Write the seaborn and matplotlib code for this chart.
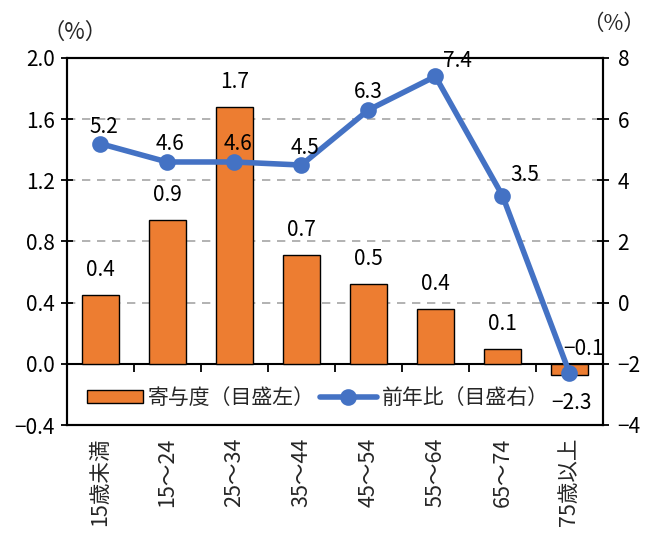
import matplotlib
matplotlib.use("Agg")
import matplotlib.pyplot as plt
import seaborn as sns
import numpy as np

categories = ["15歳未満", "15～24", "25～34", "35～44", "45～54", "55～64", "65～74", "75歳以上"]
contribution = [0.45, 0.94, 1.68, 0.71, 0.52, 0.36, 0.10, -0.07]
contribution_labels = ["0.4", "0.9", "1.7", "0.7", "0.5", "0.4", "0.1", "−0.1"]
yoy = [5.2, 4.6, 4.6, 4.5, 6.3, 7.4, 3.5, -2.3]
yoy_labels = ["5.2", "4.6", "4.6", "4.5", "6.3", "7.4", "3.5", "−2.3"]
left_ticks = [-0.4, 0.0, 0.4, 0.8, 1.2, 1.6, 2.0]
right_ticks = [-4, -2, 0, 2, 4, 6, 8]
legend_labels = ["寄与度（目盛左）", "前年比（目盛右）"]

sns.set_theme(style="white")
plt.rcParams['font.family'] = ['Noto Sans CJK JP', 'DejaVu Sans']
plt.rcParams['axes.unicode_minus'] = True

ORANGE = "#ED7D31"
BLUE = "#4472C4"
FS = 15
PX = 0.72  # points per pixel at dpi 100

fig = plt.figure(figsize=(6.47, 5.34), dpi=100)
ax = fig.add_axes([66.7/647, 1-425/534, (603-66.7)/647, (425-58)/534])
ax2 = ax.twinx()

sns.barplot(x=categories, y=contribution, ax=ax, color=ORANGE, width=0.55,
            edgecolor="black", linewidth=1.0, saturation=1, label=legend_labels[0])
sns.pointplot(x=categories, y=yoy, ax=ax2, color=BLUE, linewidth=4,
              markersize=9, label=legend_labels[1])

ax.set_ylim(-0.4, 2.0)
ax.set_yticks(left_ticks)
ax.set_yticklabels([f"{v:.1f}".replace("-", "−") for v in left_ticks], fontsize=FS)
ax2.set_ylim(-4, 8)
ax2.set_yticks(right_ticks)
ax2.set_yticklabels([str(v).replace("-", "−") for v in right_ticks], fontsize=FS)
ax.set_xlim(-0.5, len(categories) - 0.5)
ax2.set_xlim(-0.5, len(categories) - 0.5)

# grid
for v in left_ticks[2:-1]:
    ax.axhline(v, color="#A6A6A6", linestyle=(0, (5, 4)), linewidth=1.2, zorder=0)

# spines
for a in (ax, ax2):
    for s in a.spines.values():
        s.set_color("black")
        s.set_linewidth(1.5)
ax.tick_params(axis="y", direction="inout", length=9, width=1.3, colors="black", pad=4)
ax2.tick_params(axis="y", direction="inout", length=9, width=1.3, colors="black", pad=6)
ax.tick_params(axis="x", length=0, pad=9)
ax.set_xticks(range(len(categories)))
ax.set_xticklabels(categories, rotation=90, fontsize=FS + 0.5, va="top")
ax2.tick_params(axis="x", length=0)
ax.set_xlabel("")
ax.set_ylabel("")
ax2.set_ylabel("")

# category axis at y=0
zero_frac = (0 - (-0.4)) / 2.4
sec = ax.secondary_xaxis(zero_frac)
sec.set_xticks(np.arange(-0.5, len(categories) + 0.5, 1.0))
sec.set_xticklabels([])
sec.tick_params(axis="x", direction="out", length=6, width=1.3, colors="black")
sec.spines["bottom"].set_linewidth(1.5)
sec.spines["bottom"].set_color("black")

# bar labels (offsets in pixels, label centre relative to bar end)
for i, (v, t) in enumerate(zip(contribution, contribution_labels)):
    y = max(v, 0)
    dx, dy = (0, 25) if v >= 0 else (14, 15)
    ax.annotate(t, (i, y), xytext=(dx * PX, dy * PX), textcoords="offset points",
                ha="center", va="center", fontsize=FS, color="black")

# line labels (pixel offsets of label centre from point)
offsets = [(4, 17), (3, 18), (4, 18), (4, 17), (0, 18), (22, 15), (22, 21), (2, -30)]
for i, (v, t, (dx, dy)) in enumerate(zip(yoy, yoy_labels, offsets)):
    ax2.annotate(t, (i, v), xytext=(dx * PX, dy * PX), textcoords="offset points",
                 ha="center", va="center", fontsize=FS, color="black")

# unit labels
fig.text(75/647, 1-32/534, "（%）", ha="center", va="center", fontsize=FS + 1)
fig.text(614/647, 1-24/534, "（%）", ha="center", va="center", fontsize=FS + 0.5)

# legend
h1, l1 = ax.get_legend_handles_labels()
h2, l2 = ax2.get_legend_handles_labels()
if ax2.get_legend():
    ax2.get_legend().remove()
if ax.get_legend():
    ax.get_legend().remove()
leg = ax.legend(h1 + h2, l1 + l2, loc="lower left", bbox_to_anchor=(0.01, 0.005),
                ncol=2, frameon=False, fontsize=15, handlelength=2.7, handleheight=0.6,
                handletextpad=0.25, columnspacing=0.25, borderaxespad=0.3)

fig.savefig("out.png", dpi=100)
